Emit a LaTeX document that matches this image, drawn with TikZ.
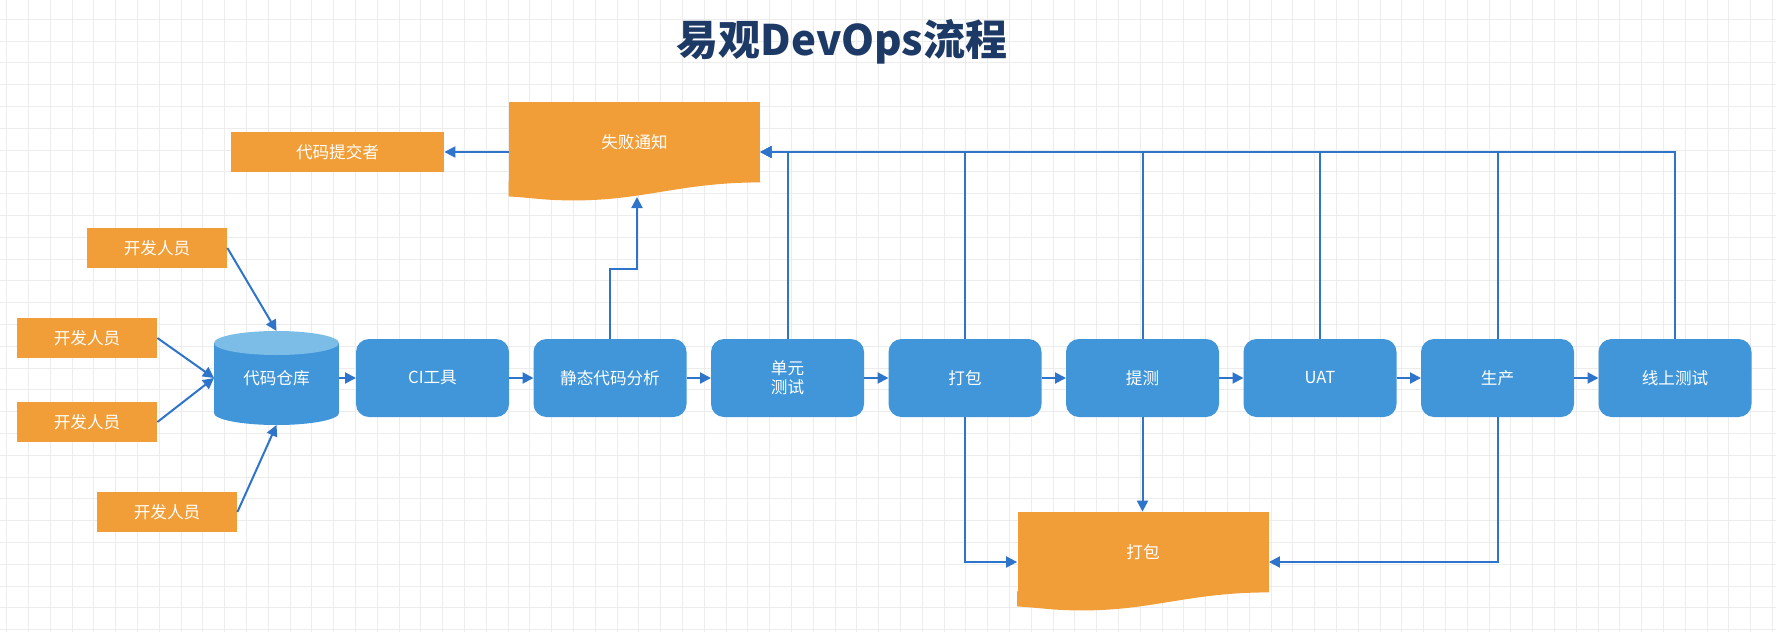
\documentclass[tikz,border=0pt]{standalone}
\usepackage{fontspec}
\setmainfont{Noto Sans CJK SC}
\usetikzlibrary{arrows.meta,positioning,calc}
\definecolor{devOrange}{HTML}{F29E38}
\definecolor{stageBlue}{HTML}{4096D9}
\definecolor{repoTop}{HTML}{7CBDE8}
\definecolor{wireBlue}{HTML}{2F74CB}
\definecolor{titleNavy}{HTML}{1D3A67}
\definecolor{gridGray}{HTML}{ECECEC}

\begin{document}
\begin{tikzpicture}[
    x=0.5pt, y=-0.5pt,
    font=\fontsize{8.3}{9.4}\selectfont,
    person/.style={fill=devOrange, text=white, minimum width=70pt, minimum height=20pt, inner sep=0pt},
    stage/.style={fill=stageBlue, text=white, rounded corners=6.5pt, minimum width=76.5pt, minimum height=39pt, align=center, inner sep=0pt, outer sep=0pt},
    doc/.style={fill=devOrange, text=white, minimum width=125.5pt, minimum height=40pt, inner sep=0pt},
    repo/.style={text=white, minimum width=62.5pt, minimum height=47pt, inner sep=0pt, outer sep=0pt,
      path picture={
        \fill[stageBlue] ([yshift=-6pt]path picture bounding box.north west) rectangle ([yshift=6pt]path picture bounding box.south east);
        \fill[stageBlue] ([yshift=6pt]path picture bounding box.south) ellipse [x radius=31.25pt, y radius=6pt];
        \fill[repoTop] ([yshift=-6pt]path picture bounding box.north) ellipse [x radius=31.25pt, y radius=6pt];
      }},
    wire/.style={draw=wireBlue, line width=1pt, -{Triangle[length=5.5pt,width=5.5pt]}},
    gridline/.style={draw=gridGray, line width=0.5pt}
  ]
    \useasboundingbox (0,0) rectangle (1776,632);
    \fill[white] (0,0) rectangle (1776,632);
    % background grid
    \foreach \i in {0,...,81}
      \draw[gridline] ({6.7+21.8*\i},0) -- ({6.7+21.8*\i},632);
    \foreach \j in {0,...,29}
      \draw[gridline] (0,{-2.5+21.8*\j}) -- (1776,{-2.5+21.8*\j});

    \node[font=\fontsize{21}{24}\selectfont\bfseries, text=titleNavy] (title) at (842,42) {易观DevOps流程};

    % developers and repository
    \node[repo] (repo) at (276.5,378) {代码仓库};
    \node[person] (dev1) at (157,248) {开发人员};
    \node[person] (dev2) at (87,338) {开发人员};
    \node[person] (dev3) at (87,422) {开发人员};
    \node[person] (dev4) at (167,512) {开发人员};

    % pipeline
    \node[stage, right=8.5pt of repo] (ci) {CI工具};
    \node[stage, right=12.25pt of ci] (stat) {静态代码分析};
    \node[stage, right=12.25pt of stat] (unit) {单元\\测试};
    \node[stage, right=12.25pt of unit] (pack) {打包};
    \node[stage, right=12.25pt of pack] (submit) {提测};
    \node[stage, right=12.25pt of submit] (uat) {UAT};
    \node[stage, right=12.25pt of uat] (prod) {生产};
    \node[stage, right=12.25pt of prod] (online) {线上测试};

    % documents
    \node[doc] (fail) at (634.5,142) {失败通知};
    \node[doc] (pkgdoc) at (1143,552) {打包};
    \node[person, minimum width=106.5pt] (commit) at (337.5,152) {代码提交者};
    \foreach \d in {fail,pkgdoc}
      \fill[devOrange] ([yshift=0.5pt]\d.south east) -- (\d.south east) .. controls +(-80,0) and +(70,0) .. ([shift={(-60,18)}]\d.south)
        .. controls +(-30,0) and +(30,2) .. ([yshift=-7pt]\d.south west) -- ([yshift=0.5pt]\d.south west) -- cycle;
    \coordinate (failtip) at (637,197);

    \draw[wire] (dev1.east) -- (repo.north);
    \draw[wire] (dev2.east) -- (repo.west);
    \draw[wire] (dev3.east) -- (repo.west);
    \draw[wire] (dev4.east) -- (repo.south);
    \draw[wire] (repo) -- (ci);
    \draw[wire] (ci) -- (stat);
    \draw[wire] (stat) -- (unit);
    \draw[wire] (unit) -- (pack);
    \draw[wire] (pack) -- (submit);
    \draw[wire] (submit) -- (uat);
    \draw[wire] (uat) -- (prod);
    \draw[wire] (prod) -- (online);

    % failure feedback
    \draw[wire] (stat.north) -- ++(0,-70) -| (failtip);
    \foreach \s in {unit,pack,submit,uat,prod,online}
      \draw[wire] (\s.north) |- ([yshift=-5pt]fail.east);
    \draw[wire] ([yshift=-5pt]fail.west) -- (commit.east);

    % packaging
    \draw[wire] (pack.south) |- ([yshift=-5pt]pkgdoc.west);
    \draw[wire] (submit.south) -- (submit.south |- pkgdoc.north);
    \draw[wire] (prod.south) |- ([yshift=-5pt]pkgdoc.east);
  \end{tikzpicture}
\end{document}
